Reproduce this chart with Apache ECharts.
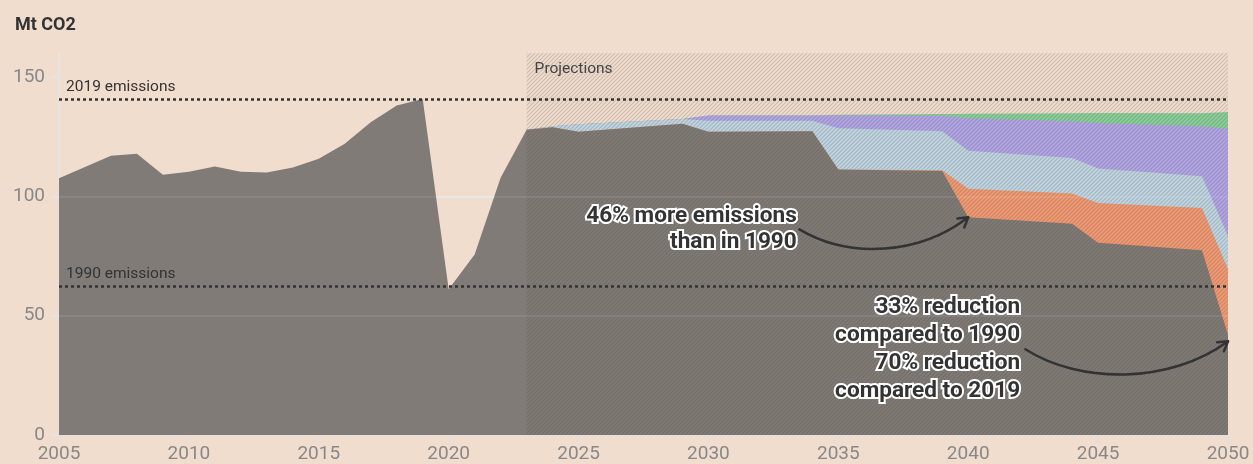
<!DOCTYPE html>
<html>
<head>
<meta charset="utf-8">
<script src="https://cdn.jsdelivr.net/npm/echarts@6/dist/echarts.min.js"></script>
<style>
  html, body { margin: 0; padding: 0; background: #f0ddce; }
  #main { width: 1253px; height: 464px; }
</style>
</head>
<body>
<div id="main"></div>
<script>
// years where the series have a point (projections only change at these years)
const years = [2005, 2006, 2007, 2008, 2009, 2010, 2011, 2012, 2013, 2014, 2015, 2016, 2017, 2018, 2019, 2020, 2021, 2022,
  2023, 2024, 2025, 2029, 2030, 2034, 2035, 2039, 2040, 2044, 2045, 2049, 2050];

// Mt CO2, layers from bottom to top
const existing = [107.5, 112.2, 117, 117.8, 109, 110.3, 112.5, 110.3, 110, 112, 115.7, 122, 131, 138, 140.7, 61, 75.6, 107.7,
  127.9, 128.9, 127, 130.4, 127, 127.2, 111.2, 110.6, 91.2, 88.5, 80.5, 77.4, 42];
const orange = [null, null, null, null, null, null, null, null, null, null, null, null, null, null, null, null, null, null,
  0, 0, 0, 0, 0, 0, 0, 0.3, 11.9, 12.6, 16.7, 17.7, 27.4];
const blue = [null, null, null, null, null, null, null, null, null, null, null, null, null, null, null, null, null, null,
  0, 0.4, 3.2, 2.0, 4.6, 4.4, 17.3, 16.3, 16.0, 14.9, 14.4, 13.3, 13.9];
const purple = [null, null, null, null, null, null, null, null, null, null, null, null, null, null, null, null, null, null,
  0, 0, 0, 0, 2.2, 2.2, 5.4, 6.5, 13.6, 15.4, 19.1, 20.9, 44.9];
const green = [null, null, null, null, null, null, null, null, null, null, null, null, null, null, null, null, null, null,
  0, 0, 0, 0, 0, 0, 0.2, 0.8, 1.9, 3.4, 4.2, 5.5, 7.1];

const emissions2019 = 140.7;
const emissions1990 = 62.4;
const projectionStart = 2023;
const yTicks = [0, 50, 100, 150];

// annotation anchors in data coordinates
const note1 = { text: '46% more emissions\nthan in 1990', at: [2033.4, 86.1], lineHeight: 26 };
const note2 = { text: '33% reduction\ncompared to 1990\n70% reduction\ncompared to 2019', at: [2042, 35.9], lineHeight: 28 };
const arrow1 = [[2033.5, 86.1], [2035.45, 73.5], [2038.14, 75.6], [2040, 91.2]];
const arrow2 = [[2042.2, 35.9], [2044.3, 21.3], [2047.77, 21.3], [2050, 39.3]];

// the built-in stack sums the x values on a value axis in v6, so stack by hand
// and paint the layers top first so each lower one covers the one above it
const layers = [
  { name: 'Existing', data: existing, color: '#807b77' },
  { name: 'Orange', data: orange, color: '#f09a74' },
  { name: 'Blue', data: blue, color: '#bfd5e2' },
  { name: 'Purple', data: purple, color: '#b1a6e6' },
  { name: 'Green', data: green, color: '#88cf99' }
];
let running = existing.slice();
layers.forEach(function (l, k) {
  if (k > 0) {
    running = running.map((v, i) => (l.data[i] == null ? v : v + l.data[i]));
  }
  l.top = years.map((y, i) => [y, k > 0 && l.data[i] == null ? null : running[i]]);
});

// diagonal hatching for the projection zone
const hatch = document.createElement('canvas');
hatch.width = 4;
hatch.height = 4;
(function () {
  const c = hatch.getContext('2d');
  c.strokeStyle = 'rgba(70,60,50,0.2)';
  c.lineWidth = 1.2;
  c.beginPath();
  c.moveTo(0, 4); c.lineTo(4, 0);
  c.moveTo(-2, 2); c.lineTo(2, -2);
  c.moveTo(2, 6); c.lineTo(6, 2);
  c.stroke();
})();

const font = 'Roboto';
let chart = echarts.init(document.getElementById('main'));

function areaSeries(l, extra) {
  return Object.assign({
    name: l.name,
    type: 'line',
    data: l.top,
    showSymbol: false,
    symbol: 'none',
    lineStyle: { width: 0 },
    areaStyle: { color: l.color, opacity: 1 },
    silent: true
  }, extra || {});
}

let series = layers.slice().reverse().map((l) => areaSeries(l));

// projection hatching, reference lines and faint gridlines on top
series.push({
  type: 'line',
  data: [],
  silent: true,
  markArea: {
    silent: true,
    z: 10,
    itemStyle: { color: { image: hatch, repeat: 'repeat' } },
    label: {
      show: true, position: 'insideTopLeft', distance: 8,
      formatter: 'Projections', color: '#444', fontSize: 15.5, fontFamily: font
    },
    data: [[{ xAxis: projectionStart, yAxis: 160 }, { xAxis: 2050, yAxis: 0 }]]
  },
  markLine: {
    silent: true,
    z: 12,
    symbol: 'none',
    lineStyle: { color: '#333', type: [3, 3], width: 2.5 },
    label: { position: 'insideStartTop', color: '#333', fontSize: 15.5, fontFamily: font, distance: [7, 4] },
    data: [
      { yAxis: emissions2019, label: { formatter: '2019 emissions' } },
      { yAxis: emissions1990, label: { formatter: '1990 emissions' } },
      { yAxis: 50, label: { show: false }, lineStyle: { color: 'rgba(255,255,255,0.08)', type: 'solid', width: 2 } },
      { yAxis: 100, label: { show: false }, lineStyle: { color: 'rgba(255,255,255,0.08)', type: 'solid', width: 2 } }
    ]
  }
});

let option = {
  backgroundColor: '#f0ddce',
  animation: false,
  title: {
    text: 'Mt CO2',
    left: 10,
    top: 11,
    textStyle: { fontSize: 18, fontWeight: 'bold', color: '#333', fontFamily: font }
  },
  grid: { left: 59, right: 25, top: 53, bottom: 28, containLabel: false },
  xAxis: {
    type: 'value',
    min: 2005,
    max: 2050,
    interval: 5,
    axisLine: { lineStyle: { color: '#e2e0de', width: 2 } },
    axisTick: { show: true, length: 7, lineStyle: { color: '#e2e0de', width: 2 } },
    axisLabel: { color: '#888', fontSize: 19, fontFamily: font, margin: 10, formatter: (v) => String(v) },
    splitLine: { show: false }
  },
  yAxis: {
    type: 'value',
    min: 0,
    max: 160,
    interval: 50,
    axisLine: { show: true, lineStyle: { color: '#e6e4e2', width: 2 } },
    axisTick: { show: true, length: 8, customValues: yTicks, lineStyle: { color: '#e6e4e2', width: 2 } },
    axisLabel: { color: '#888', fontSize: 19, fontFamily: font, margin: 14, customValues: yTicks },
    splitLine: { show: true, showMaxLine: false, lineStyle: { color: '#e8e6e4', width: 2 } }
  },
  series: series
};

option && chart.setOption(option);

function px(p) {
  return chart.convertToPixel({ gridIndex: 0 }, p);
}

function arrowGraphics(pts) {
  const a = pts.map(px);
  const end = a[3], c2 = a[2];
  const ang = Math.atan2(end[1] - c2[1], end[0] - c2[0]);
  const len = 11;
  const h1 = [end[0] - len * Math.cos(ang - 0.55), end[1] - len * Math.sin(ang - 0.55)];
  const h2 = [end[0] - len * Math.cos(ang + 0.55), end[1] - len * Math.sin(ang + 0.55)];
  const style = { stroke: '#333', lineWidth: 2.5, fill: null, lineCap: 'round', lineJoin: 'round' };
  return [
    {
      type: 'bezierCurve', z: 100, silent: true,
      shape: { x1: a[0][0], y1: a[0][1], cpx1: a[1][0], cpy1: a[1][1], cpx2: a[2][0], cpy2: a[2][1], x2: end[0], y2: end[1] },
      style: style
    },
    { type: 'polyline', z: 100, silent: true, shape: { points: [h1, end, h2] }, style: style }
  ];
}

function noteGraphic(n) {
  const p = px(n.at);
  return {
    type: 'text', z: 101, silent: true, x: p[0], y: p[1],
    style: {
      text: n.text, align: 'right', verticalAlign: 'middle',
      font: 'bold 22.6px ' + font, fill: '#333', stroke: '#fff', lineWidth: 4,
      lineHeight: n.lineHeight
    }
  };
}

chart.setOption({
  graphic: [].concat(arrowGraphics(arrow1), arrowGraphics(arrow2), [noteGraphic(note1), noteGraphic(note2)])
});
</script>
</body>
</html>
